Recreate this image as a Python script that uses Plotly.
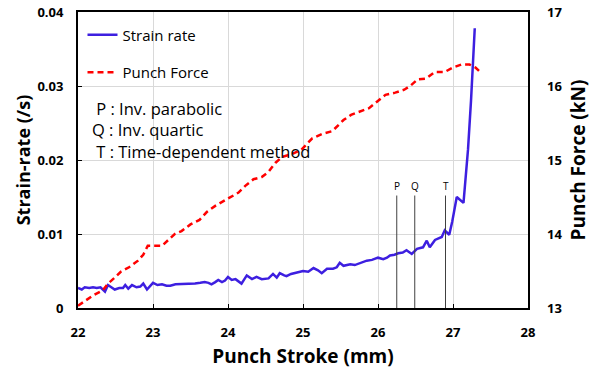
import plotly.graph_objects as go

# Strain rate vs punch stroke
stroke_sr = [22.00, 22.05, 22.09, 22.15, 22.20, 22.25, 22.30, 22.36, 22.40, 22.45,
             22.49, 22.55, 22.60, 22.63, 22.67, 22.72, 22.78, 22.83, 22.87, 22.92,
             22.96, 23.00, 23.06, 23.12, 23.18, 23.23, 23.30, 23.38, 23.45, 23.50,
             23.56, 23.63, 23.69, 23.74, 23.78, 23.83, 23.87, 23.92, 23.96, 24.00,
             24.05, 24.10, 24.18, 24.25, 24.32, 24.38, 24.45, 24.54, 24.60, 24.65,
             24.69, 24.75, 24.78, 24.84, 24.89, 24.95, 25.00, 25.07, 25.14, 25.20,
             25.25, 25.32, 25.40, 25.45, 25.49, 25.54, 25.60, 25.63, 25.69, 25.75,
             25.80, 25.85, 25.92, 26.00, 26.07, 26.12, 26.16, 26.22, 26.27, 26.33,
             26.38, 26.45, 26.52, 26.56, 26.60, 26.65, 26.69, 26.76, 26.80, 26.85,
             26.89, 26.95, 26.99, 27.05, 27.14, 27.20, 27.24, 27.29]
strain_rate = [0.0027, 0.0025, 0.0028, 0.0027, 0.0028, 0.0027, 0.0028, 0.0022, 0.0031, 0.0028,
               0.0025, 0.0027, 0.0027, 0.0031, 0.0026, 0.0031, 0.0028, 0.0029, 0.0033, 0.0025,
               0.0029, 0.0034, 0.0031, 0.0032, 0.0030, 0.0030, 0.0032, 0.0032, 0.0032, 0.0033,
               0.0033, 0.0034, 0.0035, 0.0034, 0.0032, 0.0035, 0.0038, 0.0035, 0.0037, 0.0042,
               0.0038, 0.0039, 0.0033, 0.0044, 0.0039, 0.0042, 0.0039, 0.0040, 0.0046, 0.0041,
               0.0047, 0.0044, 0.0043, 0.0046, 0.0047, 0.0048, 0.0050, 0.0049, 0.0054, 0.0051,
               0.0047, 0.0053, 0.0053, 0.0055, 0.0061, 0.0057, 0.0059, 0.0059, 0.0058, 0.0060,
               0.0062, 0.0064, 0.0065, 0.0068, 0.0066, 0.0068, 0.0071, 0.0072, 0.0074, 0.0075,
               0.0078, 0.0073, 0.0080, 0.0081, 0.0082, 0.0091, 0.0082, 0.0092, 0.0094, 0.0096,
               0.0105, 0.0099, 0.0117, 0.0150, 0.0142, 0.0214, 0.0280, 0.0378]

# Punch force vs punch stroke
stroke_pf = [22.00, 22.10, 22.20, 22.33, 22.40, 22.50, 22.57, 22.68, 22.80, 22.87,
             22.93, 23.12, 23.20, 23.29, 23.38, 23.50, 23.62, 23.72, 23.83, 23.95,
             24.03, 24.14, 24.23, 24.34, 24.45, 24.54, 24.63, 24.72, 24.85, 24.98,
             25.12, 25.25, 25.39, 25.54, 25.64, 25.75, 25.88, 25.99, 26.10, 26.23,
             26.35, 26.44, 26.53, 26.64, 26.76, 26.89, 27.00, 27.11, 27.22, 27.30, 27.36]
punch_force = [13.03, 13.10, 13.17, 13.24, 13.33, 13.42, 13.49, 13.55, 13.64, 13.72,
               13.84, 13.84, 13.92, 14.00, 14.04, 14.13, 14.19, 14.30, 14.38, 14.45,
               14.49, 14.56, 14.65, 14.74, 14.77, 14.84, 14.96, 15.04, 15.08, 15.14,
               15.29, 15.35, 15.39, 15.54, 15.61, 15.65, 15.70, 15.79, 15.88, 15.91,
               15.95, 16.01, 16.09, 16.10, 16.19, 16.19, 16.25, 16.29, 16.29, 16.25, 16.19]

# Onset markers for each method
marker_labels = ["P", "Q", "T"]
marker_stroke = [26.25, 26.49, 26.90]
marker_top = 0.0152

method_notes = ["&nbsp;P : Inv. parabolic", "Q : Inv. quartic", "&nbsp;T : Time-dependent method"]

x_ticks = [22, 23, 24, 25, 26, 27, 28]
sr_ticks = [0, 0.01, 0.02, 0.03, 0.04]
sr_tick_text = ["0", "0.01", "0.02", "0.03", "0.04"]
pf_ticks = [13, 14, 15, 16, 17]

BASE_FONT = "Open Sans"
TICK_FONT = dict(family=BASE_FONT, size=13, color="black", weight="bold")
TITLE_FONT = dict(family=BASE_FONT, size=19, color="black", weight="bold")
YTITLE_FONT = dict(family=BASE_FONT, size=18, color="black", weight="bold")

fig = go.Figure()

fig.add_trace(go.Scatter(
    x=stroke_sr, y=strain_rate, mode="lines", name="Strain rate",
    line=dict(color="#3d1fe0", width=2.5), legendgroup="a",
))
fig.add_trace(go.Scatter(
    x=stroke_pf, y=punch_force, mode="lines", name="Punch Force", yaxis="y2",
    line=dict(color="#ff0000", width=2.5, dash="6px,4px"), legendgroup="b",
))

shapes = []
annotations = []
for lab, xs in zip(marker_labels, marker_stroke):
    shapes.append(dict(type="line", xref="x", yref="y", x0=xs, x1=xs, y0=0, y1=marker_top,
                       line=dict(color="#404040", width=1)))
    annotations.append(dict(x=xs, y=marker_top, xref="x", yref="y", text=lab,
                            showarrow=False, yanchor="bottom", yshift=1,
                            font=dict(family=BASE_FONT, size=10, color="black")))

# Method key, one block of three lines
annotations.append(dict(x=0.027, y=0.601, xref="paper", yref="paper",
                        text="<br>".join(method_notes), align="left",
                        showarrow=False, xanchor="left", yanchor="middle",
                        font=dict(family=BASE_FONT, size=16.5, color="black")))

fig.update_layout(
    width=598, height=374,
    margin=dict(l=78, r=70, t=12, b=66),
    paper_bgcolor="white", plot_bgcolor="white",
    font=dict(family=BASE_FONT, color="black"),
    showlegend=True,
    legend=dict(x=0.01, y=0.978, xanchor="left", yanchor="top",
                bgcolor="rgba(0,0,0,0)", tracegroupgap=15,
                font=dict(family=BASE_FONT, size=15, color="black")),
    xaxis=dict(range=[22, 28], tickvals=x_ticks, showgrid=True, gridcolor="#d9d9d9",
               gridwidth=1, showline=True, linecolor="black", linewidth=2, mirror=True,
               ticks="inside", ticklen=4, tickcolor="black", tickfont=TICK_FONT,
               ticklabelstandoff=11, automargin=False,
               title=dict(text="Punch Stroke (mm)", font=TITLE_FONT, standoff=10),
               zeroline=False),
    yaxis=dict(range=[0, 0.04], tickvals=sr_ticks, ticktext=sr_tick_text, showgrid=True,
               gridcolor="#d9d9d9", gridwidth=1, showline=True, linecolor="black",
               linewidth=2, mirror=True, ticks="inside", ticklen=4, tickcolor="black",
               tickfont=TICK_FONT, zeroline=False, ticklabelstandoff=10, automargin=False,
               title=dict(text="Strain-rate (/s)", font=YTITLE_FONT, standoff=2)),
    yaxis2=dict(range=[13, 17], tickvals=pf_ticks, overlaying="y", side="right",
                showgrid=False, showline=False, ticks="", tickfont=TICK_FONT,
                zeroline=False, ticklabelstandoff=18, automargin=False,
                title=dict(text="Punch Force (kN)", font=TITLE_FONT, standoff=10)),
    shapes=shapes,
    annotations=annotations,
)

fig.write_html("out.html")
